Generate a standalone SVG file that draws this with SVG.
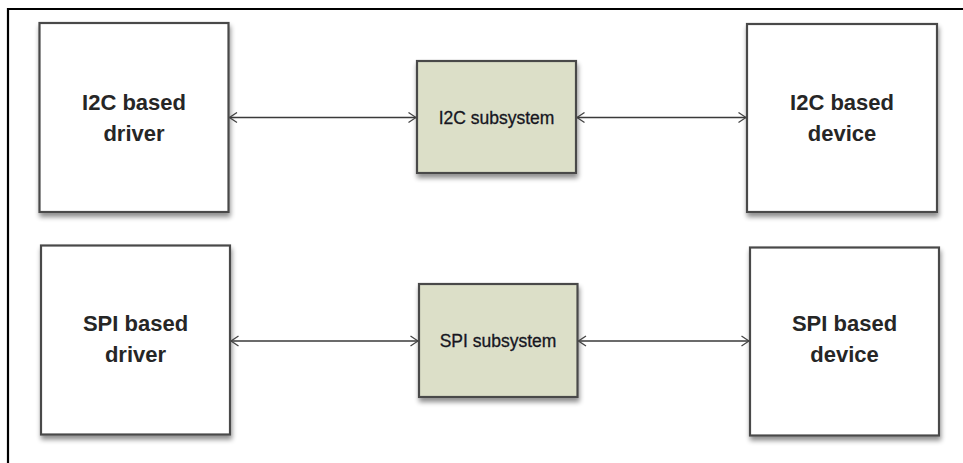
<svg xmlns="http://www.w3.org/2000/svg" width="963" height="463" viewBox="0 0 963 463">
  <defs>
    <filter id="shadow" x="-10%" y="-10%" width="125%" height="125%">
      <feGaussianBlur in="SourceAlpha" stdDeviation="2.5"/>
      <feOffset dx="1" dy="4" result="blur"/>
      <feComponentTransfer><feFuncA type="linear" slope="0.45"/></feComponentTransfer>
      <feMerge><feMergeNode/><feMergeNode in="SourceGraphic"/></feMerge>
    </filter>
    <marker id="head" viewBox="0 0 10 12" refX="9.5" refY="6" markerWidth="10" markerHeight="12" markerUnits="userSpaceOnUse" orient="auto-start-reverse">
      <path d="M2,1 L9.5,6 L2,11" fill="none" stroke="#444" stroke-width="1.3"/>
    </marker>
  </defs>
  <style>
    .box { fill: #ffffff; stroke: #4a4a4a; stroke-width: 2.2; filter: url(#shadow); }
    .sub { fill: #dcdfc8; stroke: #4a4a4a; stroke-width: 2.2; filter: url(#shadow); }
    .big { font-family: "Liberation Sans", Arial, sans-serif; font-weight: bold; font-size: 22px; fill: #262626; text-anchor: middle; }
    .small { font-family: "Liberation Sans", Arial, sans-serif; font-size: 17.5px; fill: #16161f; stroke: #16161f; stroke-width: 0.3; text-anchor: middle; }
    .link { stroke: #3a3a3a; stroke-width: 1.3; fill: none; marker-start: url(#head); marker-end: url(#head); }
  </style>

  <rect width="963" height="463" fill="#ffffff"/>
  <!-- outer frame: top and left rules -->
  <path d="M8,9 H963 M8,8 V463" stroke="#000" stroke-width="2.2" fill="none"/>

  <g id="i2c-driver">
    <rect class="box" x="39.5" y="23" width="189" height="189"/>
    <text class="big" x="134" y="110">I2C based</text>
    <text class="big" x="134" y="141">driver</text>
  </g>
  <g id="i2c-subsystem">
    <rect class="sub" x="417" y="61" width="159" height="112"/>
    <text class="small" x="496.5" y="123.5">I2C subsystem</text>
  </g>
  <g id="i2c-device">
    <rect class="box" x="747" y="24" width="190" height="188"/>
    <text class="big" x="842" y="110">I2C based</text>
    <text class="big" x="842" y="141">device</text>
  </g>

  <g id="spi-driver">
    <rect class="box" x="41" y="245.5" width="189" height="189"/>
    <text class="big" x="135.5" y="331">SPI based</text>
    <text class="big" x="135.5" y="362">driver</text>
  </g>
  <g id="spi-subsystem">
    <rect class="sub" x="419" y="284" width="158.5" height="113"/>
    <text class="small" x="498" y="347">SPI subsystem</text>
  </g>
  <g id="spi-device">
    <rect class="box" x="750" y="247.5" width="189" height="188"/>
    <text class="big" x="844.5" y="331">SPI based</text>
    <text class="big" x="844.5" y="362">device</text>
  </g>

  <g id="connectors">
    <line class="link" x1="229.5" y1="117.5" x2="416" y2="117.5"/>
    <line class="link" x1="577" y1="117.5" x2="746" y2="117.5"/>
    <line class="link" x1="231" y1="341" x2="418" y2="341"/>
    <line class="link" x1="578.5" y1="341" x2="749" y2="341"/>
  </g>
</svg>
